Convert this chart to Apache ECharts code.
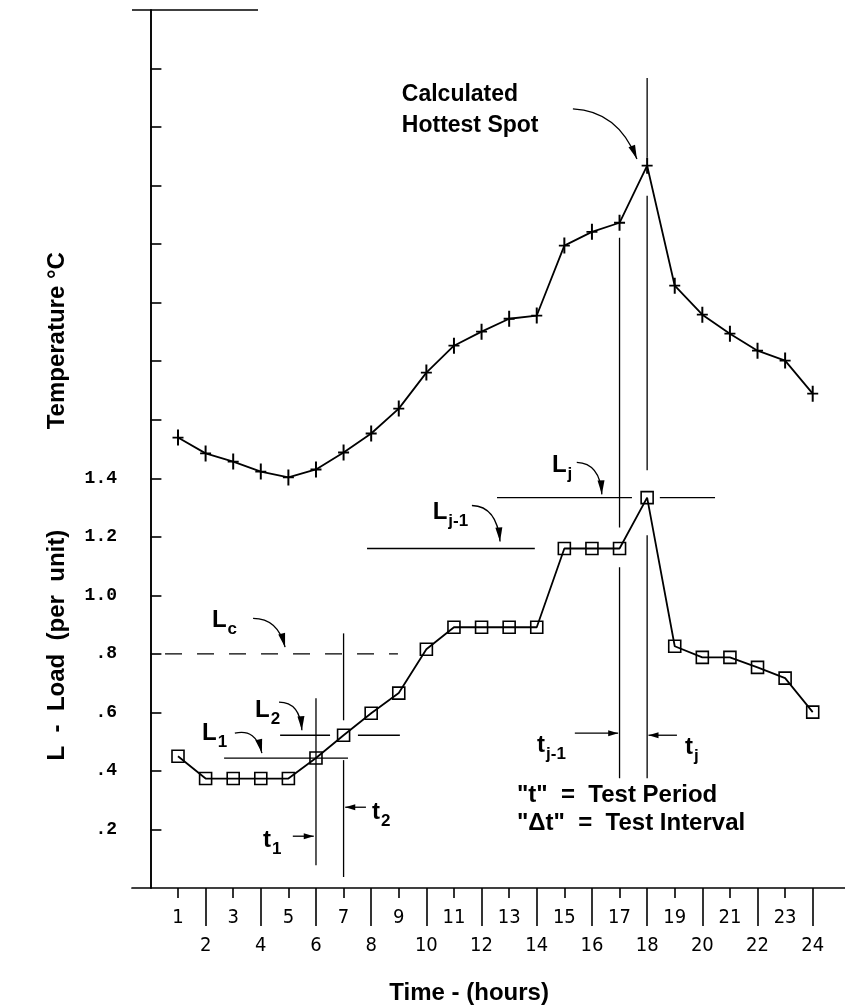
<!DOCTYPE html>
<html><head><meta charset="utf-8">
<script src="https://cdn.jsdelivr.net/npm/echarts@6/dist/echarts.min.js"></script>
<style>html,body{margin:0;padding:0;background:#fff}#c{width:845px;height:1007px}</style>
</head><body><div id="c"></div>
<script>
// ---------- data ----------
const hours = [1,2,3,4,5,6,7,8,9,10,11,12,13,14,15,16,17,18,19,20,21,22,23,24];
const loadPU = [0.45,0.374,0.374,0.374,0.374,0.444,0.522,0.597,0.666,0.816,0.891,0.891,0.891,0.891,1.16,1.16,1.16,1.334,0.826,0.788,0.788,0.754,0.717,0.601];
// temperature curve (unlabelled scale, plotted on the shared vertical scale)
const temperature = [1.539,1.485,1.457,1.423,1.403,1.430,1.488,1.553,1.638,1.761,1.853,1.901,1.945,1.956,2.195,2.242,2.273,2.468,2.058,1.959,1.894,1.836,1.802,1.689];
const loadTickValues = [0.2,0.4,0.6,0.8,1.0,1.2,1.4];
const loadTickLabels = ['.2','.4','.6','.8','1.0','1.2','1.4'];
const yTickValues = [0.2,0.4,0.6,0.8,1.0,1.2,1.4,1.6,1.8,2.0,2.2,2.4,2.6,2.8];
const evenHours = [2,4,6,8,10,12,14,16,18,20,22,24];
const oddHours = [1,3,5,7,9,11,13,15,17,19,21,23];
const Lc = 0.8;

const FONT = '"Liberation Sans", Arial, sans-serif';
const NARROW = '"Liberation Sans Narrow", "DejaVu Sans Condensed", "Liberation Sans", sans-serif';

const chart = echarts.init(document.getElementById('c'));
const baseX = {type:'value', min:-0.667, max:25.17, splitLine:{show:false}, position:'bottom'};
chart.setOption({
  animation:false,
  backgroundColor:'#fff',
  grid:{left:132,right:0,top:10,bottom:119},
  xAxis:[
    Object.assign({}, baseX, {
      axisLine:{show:true,lineStyle:{color:'#000',width:1.7}},
      axisTick:{show:true,customValues:evenHours,length:38,lineStyle:{color:'#000',width:1.6}},
      axisLabel:{customValues:evenHours,margin:48,color:'#000',fontSize:20,fontFamily:NARROW}
    }),
    Object.assign({}, baseX, {
      axisLine:{show:false},
      axisTick:{show:true,customValues:oddHours,length:10,lineStyle:{color:'#000',width:1.6}},
      axisLabel:{customValues:oddHours,margin:20,color:'#000',fontSize:20,fontFamily:NARROW}
    })
  ],
  yAxis:[{type:'value',min:0,max:3,interval:0.2,splitLine:{show:false},
    axisLine:{show:true,lineStyle:{color:'#000',width:1.9}},
    axisTick:{show:true,inside:true,length:11,customValues:yTickValues,lineStyle:{color:'#000',width:1.6}},
    axisLabel:{customValues:loadTickValues,margin:15,color:'#000',fontSize:18,fontWeight:'bold',fontFamily:'"Liberation Mono", "DejaVu Sans Mono", monospace',
      formatter:function(v){const i=loadTickValues.findIndex(t=>Math.abs(t-v)<1e-6);return i>=0?loadTickLabels[i]:'';}}
  }],
  series:[
    {type:'line',name:'Temperature',data:hours.map((h,i)=>[h,temperature[i]]),
      symbol:'path://M-0.9,-8L0.9,-8L0.9,8L-0.9,8Z M-5,-0.9L5,-0.9L5,0.9L-5,0.9Z',symbolSize:[11,16],
      itemStyle:{color:'#000'},lineStyle:{color:'#000',width:1.8},z:3},
    {type:'line',name:'Load',data:hours.map((h,i)=>[h,loadPU[i]]),
      symbol:'rect',symbolSize:12,
      itemStyle:{color:'rgba(255,255,255,0)',borderColor:'#000',borderWidth:1.6},lineStyle:{color:'#000',width:1.8},z:3}
  ]
});

// ---------- annotations (positions given in hours / per-unit of the axes) ----------
const P = (h,v)=>chart.convertToPixel({xAxisIndex:0,yAxisIndex:0},[h,v]);
const G = [];
const mctx = document.createElement('canvas').getContext('2d');
function seg(a,b,extra){const p=P(a[0],a[1]),q=P(b[0],b[1]);
  G.push({type:'line',z:50,shape:{x1:p[0],y1:p[1],x2:q[0],y2:q[1]},style:Object.assign({stroke:'#000',lineWidth:1.3},extra||{})});}
function head(F,T,len,w){const dx=T[0]-F[0],dy=T[1]-F[1],d=Math.hypot(dx,dy),ux=dx/d,uy=dy/d;
  const bx=T[0]-ux*len,by=T[1]-uy*len;
  G.push({type:'polygon',z:51,shape:{points:[[T[0],T[1]],[bx-uy*w,by+ux*w],[bx+uy*w,by-ux*w]]},style:{fill:'#000'}});}
function curveArrow(s,c,e){const S=P(s[0],s[1]),C=P(c[0],c[1]),E=P(e[0],e[1]);
  G.push({type:'bezierCurve',z:50,shape:{x1:S[0],y1:S[1],x2:E[0],y2:E[1],cpx1:C[0],cpy1:C[1]},style:{stroke:'#000',lineWidth:1.3,fill:null}});
  head(C,E,14,3.5);}
function arrow(s,e){const S=P(s[0],s[1]),E=P(e[0],e[1]);seg(s,e);head(S,E,10,3);}
function sym(main,sub,at){const p=P(at[0],at[1]);const f1='bold 24px '+FONT, f2='bold 17px '+FONT;
  mctx.font=f1;const w=mctx.measureText(main).width;
  G.push({type:'text',z:52,x:p[0],y:p[1],style:{text:main,font:f1,fill:'#000',verticalAlign:'middle',align:'left'}});
  G.push({type:'text',z:52,x:p[0]+w+1,y:p[1]+9,style:{text:sub,font:f2,fill:'#000',verticalAlign:'middle',align:'left'}});}
function txt(s,at,size){const p=P(at[0],at[1]);
  G.push({type:'text',z:52,x:p[0],y:p[1],style:{text:s,font:'bold '+size+'px '+FONT,fill:'#000',verticalAlign:'middle',align:'left'}});}

// short top frame line at the upper left
seg([-0.667,3.0],[3.9,3.0],{lineWidth:1.4});
// L_c dashed level
seg([0.53,Lc],[8.97,Lc],{lineDash:[17,15],lineWidth:1.4});
sym('L','c',[2.23,0.915]);
curveArrow([3.72,0.921],[4.62,0.921],[4.88,0.823]);
// t1 / t2 verticals
seg([6,0.648],[6,0.078]);
seg([7,0.870],[7,0.573]); seg([7,0.437],[7,0.0375]);
// L1 / L2 levels
seg([2.67,loadPU[5]],[7.16,loadPU[5]]);
seg([4.70,loadPU[6]],[6.51,loadPU[6]]); seg([7.52,loadPU[6]],[9.04,loadPU[6]]);
sym('L','1',[1.87,0.529]); curveArrow([3.06,0.529],[3.83,0.546],[4.04,0.461]);
sym('L','2',[3.79,0.608]); curveArrow([4.66,0.635],[5.42,0.635],[5.49,0.539]);
sym('t','1',[4.08,0.164]); arrow([5.16,0.177],[5.92,0.177]);
sym('t','2',[8.03,0.259]); arrow([7.81,0.276],[7.06,0.276]);
// L_{j-1}, L_j levels
seg([7.85,loadPU[16]],[13.93,loadPU[16]]);
sym('L','j-1',[10.23,1.283]); curveArrow([11.65,1.307],[12.56,1.304],[12.67,1.184]);
seg([12.56,loadPU[17]],[17.45,loadPU[17]]); seg([18.46,loadPU[17]],[20.46,loadPU[17]]);
sym('L','j',[14.55,1.444]); curveArrow([15.45,1.454],[16.29,1.451],[16.36,1.345]);
// t_{j-1}, t_j verticals
seg([17,2.222],[17,1.232]); seg([17,1.096],[17,0.375]);
seg([18,2.768],[18,2.495]); seg([18,2.365],[18,1.427]); seg([18,1.205],[18,0.375]);
sym('t','j-1',[14.01,0.488]); arrow([15.38,0.529],[16.95,0.529]);
sym('t','j',[19.37,0.481]); arrow([19.08,0.522],[18.05,0.522]);
txt('"t"  =  Test Period',[13.28,0.317],24);
txt('"\u0394t"  =  Test Interval',[13.28,0.222],24);
// hottest spot
txt('Calculated',[9.11,2.710],23);
txt('Hottest Spot',[9.11,2.604],23);
curveArrow([15.31,2.662],[16.94,2.655],[17.63,2.491]);
// axis titles
(function(){const a=P(-3.38,1.87),b=P(-3.38,0.83),t=P(11.55,-0.36);
  G.push({type:'text',z:52,x:a[0],y:a[1],rotation:Math.PI/2,style:{text:'Temperature °C',font:'bold 24px '+FONT,fill:'#000',align:'center',verticalAlign:'middle'}});
  G.push({type:'text',z:52,x:b[0],y:b[1],rotation:Math.PI/2,style:{text:'L  -  Load  (per  unit)',font:'bold 24px '+FONT,fill:'#000',align:'center',verticalAlign:'middle'}});
  G.push({type:'text',z:52,x:t[0],y:t[1],style:{text:'Time - (hours)',font:'bold 24px '+FONT,fill:'#000',align:'center',verticalAlign:'middle'}});
})();
chart.setOption({graphic:{elements:G}});
</script></body></html>
